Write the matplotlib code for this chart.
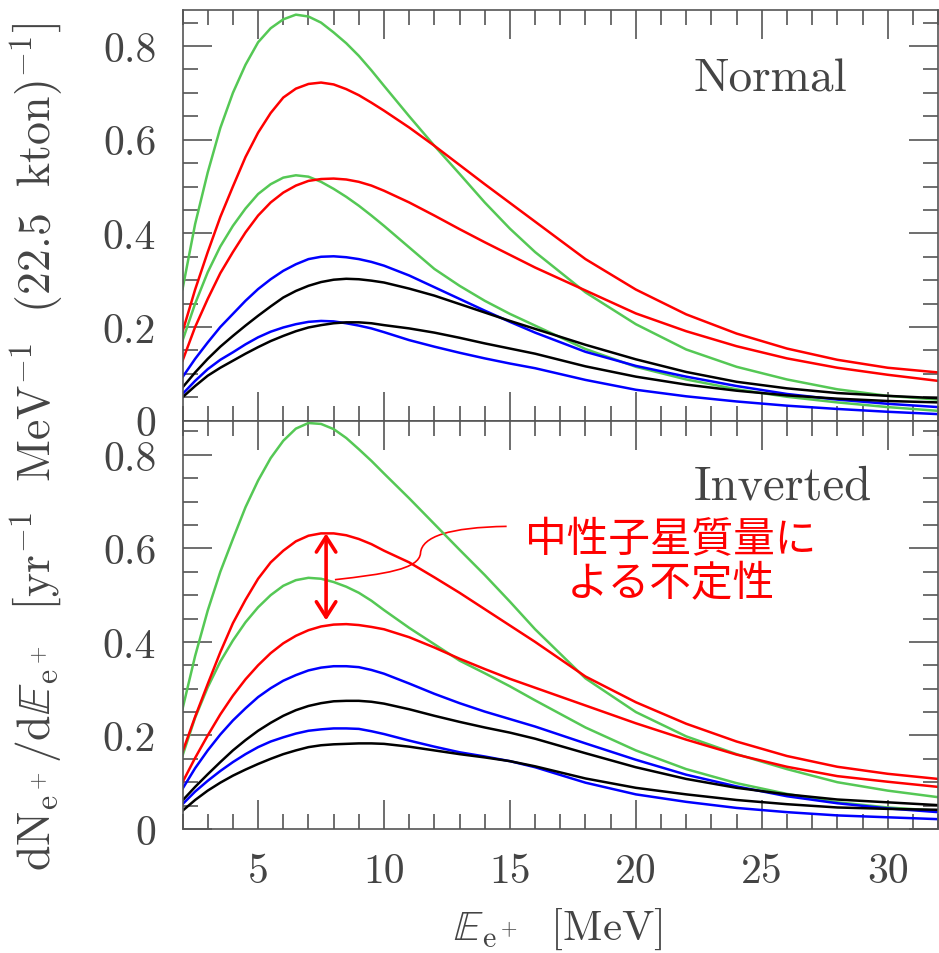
import matplotlib
matplotlib.use('Agg')
import matplotlib.pyplot as plt
from matplotlib.path import Path
from matplotlib.patches import PathPatch
from matplotlib.ticker import MultipleLocator

plt.rcParams['mathtext.fontset'] = 'cm'
plt.rcParams['font.family'] = ['cmr10', 'DejaVu Sans']
plt.rcParams['axes.formatter.use_mathtext'] = True

# positron energy grid [MeV], finer around the peaks
energy = [2, 2.5, 3, 3.5, 4, 4.5, 5, 5.5, 6, 6.5, 7, 7.5, 8, 8.5, 9, 9.5, 10,
          11, 12, 13, 14, 15, 16, 18, 20, 22, 24, 26, 28, 30, 32]

# normal hierarchy spectra
n_green_hi = [0.281, 0.420, 0.530, 0.625, 0.700, 0.760, 0.808, 0.838, 0.857, 0.867, 0.863, 0.850,
              0.829, 0.806, 0.779, 0.748, 0.715,
              0.650, 0.587, 0.527, 0.466, 0.410, 0.360, 0.274, 0.206, 0.152, 0.115, 0.088, 0.067,
              0.053, 0.045]
n_green_lo = [0.171, 0.250, 0.317, 0.372, 0.416, 0.453, 0.484, 0.505, 0.519, 0.524, 0.521, 0.510,
              0.495, 0.478, 0.459, 0.438, 0.416,
              0.370, 0.324, 0.288, 0.256, 0.228, 0.203, 0.153, 0.115, 0.088, 0.067, 0.051, 0.039,
              0.029, 0.021]
n_red_hi = [0.190, 0.280, 0.360, 0.435, 0.500, 0.563, 0.615, 0.657, 0.690, 0.709, 0.719, 0.722,
            0.718, 0.708, 0.695, 0.679, 0.662,
            0.626, 0.587, 0.546, 0.505, 0.465, 0.425, 0.345, 0.280, 0.227, 0.186, 0.154, 0.130,
            0.113, 0.103]
n_red_lo = [0.128, 0.200, 0.260, 0.315, 0.360, 0.402, 0.438, 0.466, 0.487, 0.502, 0.512, 0.516,
            0.517, 0.515, 0.510, 0.502, 0.491,
            0.466, 0.438, 0.409, 0.381, 0.354, 0.327, 0.278, 0.229, 0.191, 0.159, 0.133, 0.113,
            0.098, 0.085]
n_blue_hi = [0.093, 0.132, 0.167, 0.200, 0.228, 0.256, 0.281, 0.302, 0.320, 0.334, 0.345, 0.350,
             0.351, 0.349, 0.345, 0.339, 0.331,
             0.310, 0.285, 0.260, 0.235, 0.211, 0.188, 0.147, 0.117, 0.094, 0.074, 0.057, 0.045,
             0.036, 0.029]
n_blue_lo = [0.057, 0.085, 0.110, 0.130, 0.146, 0.163, 0.178, 0.190, 0.199, 0.206, 0.211, 0.213,
             0.212, 0.208, 0.203, 0.197, 0.189,
             0.172, 0.158, 0.145, 0.133, 0.122, 0.112, 0.087, 0.066, 0.052, 0.041, 0.032, 0.025,
             0.019, 0.014]
n_black_hi = [0.071, 0.103, 0.132, 0.158, 0.181, 0.203, 0.224, 0.244, 0.263, 0.277, 0.288, 0.296,
              0.301, 0.303, 0.302, 0.299, 0.295,
              0.282, 0.267, 0.249, 0.231, 0.213, 0.196, 0.162, 0.131, 0.104, 0.083, 0.069, 0.059,
              0.053, 0.048]
n_black_lo = [0.050, 0.074, 0.096, 0.113, 0.128, 0.143, 0.157, 0.170, 0.181, 0.191, 0.199, 0.204,
              0.208, 0.210, 0.210, 0.208, 0.204,
              0.197, 0.188, 0.177, 0.165, 0.154, 0.143, 0.116, 0.094, 0.077, 0.064, 0.054, 0.047,
              0.042, 0.039]

# inverted hierarchy spectra
i_green_hi = [0.257, 0.370, 0.467, 0.550, 0.620, 0.688, 0.745, 0.793, 0.830, 0.856, 0.868, 0.866,
              0.855, 0.836, 0.812, 0.787, 0.760,
              0.707, 0.652, 0.597, 0.543, 0.486, 0.427, 0.322, 0.250, 0.198, 0.160, 0.128, 0.100,
              0.082, 0.068]
i_green_lo = [0.157, 0.238, 0.303, 0.358, 0.403, 0.442, 0.474, 0.500, 0.520, 0.532, 0.537, 0.535,
              0.528, 0.518, 0.505, 0.488, 0.468,
              0.430, 0.395, 0.360, 0.333, 0.305, 0.275, 0.217, 0.168, 0.128, 0.098, 0.075, 0.057,
              0.046, 0.039]
i_red_hi = [0.165, 0.240, 0.310, 0.378, 0.440, 0.490, 0.535, 0.570, 0.595, 0.615, 0.627, 0.632,
            0.632, 0.628, 0.620, 0.609, 0.595,
            0.570, 0.538, 0.505, 0.470, 0.435, 0.400, 0.326, 0.271, 0.225, 0.187, 0.156, 0.133,
            0.118, 0.107]
i_red_lo = [0.100, 0.152, 0.200, 0.245, 0.285, 0.320, 0.350, 0.376, 0.397, 0.413, 0.425, 0.433,
            0.437, 0.438, 0.436, 0.432, 0.427,
            0.410, 0.388, 0.364, 0.342, 0.321, 0.302, 0.264, 0.226, 0.191, 0.159, 0.133, 0.113,
            0.101, 0.090]
i_blue_hi = [0.086, 0.130, 0.168, 0.202, 0.232, 0.258, 0.282, 0.301, 0.317, 0.329, 0.339, 0.345,
             0.348, 0.348, 0.346, 0.340, 0.332,
             0.311, 0.289, 0.269, 0.251, 0.235, 0.219, 0.183, 0.148, 0.116, 0.091, 0.070, 0.055,
             0.044, 0.036]
i_blue_lo = [0.053, 0.080, 0.103, 0.124, 0.143, 0.160, 0.175, 0.187, 0.196, 0.204, 0.210, 0.213,
             0.215, 0.215, 0.214, 0.209, 0.203,
             0.189, 0.176, 0.164, 0.155, 0.145, 0.132, 0.099, 0.074, 0.058, 0.045, 0.036, 0.029,
             0.025, 0.021]
i_black_hi = [0.061, 0.090, 0.117, 0.143, 0.168, 0.190, 0.210, 0.227, 0.242, 0.254, 0.263, 0.269,
              0.273, 0.274, 0.274, 0.272, 0.268,
              0.256, 0.242, 0.229, 0.217, 0.206, 0.193, 0.162, 0.132, 0.107, 0.088, 0.074, 0.063,
              0.057, 0.051]
i_black_lo = [0.039, 0.062, 0.082, 0.099, 0.114, 0.127, 0.139, 0.150, 0.160, 0.168, 0.175, 0.179,
              0.181, 0.182, 0.183, 0.183, 0.182,
              0.176, 0.168, 0.160, 0.153, 0.145, 0.134, 0.108, 0.088, 0.074, 0.062, 0.053, 0.046,
              0.043, 0.041]

y_ticks = [0, 0.2, 0.4, 0.6, 0.8]
y_tick_labels = ['0', '0.2', '0.4', '0.6', '0.8']
x_ticks = [5, 10, 15, 20, 25, 30]
x_tick_labels = ['5', '10', '15', '20', '25', '30']

GREEN = '#55c855'
RED = '#ff0000'
BLUE = '#0000ff'
BLACK = '#000000'
AXIS_GREY = '#555555'
TEXT_GREY = '#444444'


def draw_panel(ax, curves, ymax, name, name_x, name_y, name_size):
    for vals, color in curves:
        ax.plot(energy, vals, color=color, lw=1.8, solid_joinstyle='round')
    ax.set_xlim(2, 32)
    ax.set_ylim(0, ymax)
    ax.set_xticks(x_ticks, x_tick_labels)
    ax.set_yticks(y_ticks, y_tick_labels)
    ax.xaxis.set_minor_locator(MultipleLocator(1))
    ax.yaxis.set_minor_locator(MultipleLocator(0.05))
    ax.tick_params(which='both', direction='in', top=True, right=True,
                   color=AXIS_GREY, width=1.2, labelsize=30, labelcolor=TEXT_GREY)
    ax.tick_params(which='major', length=21)
    ax.tick_params(which='minor', length=10.5)
    ax.tick_params(axis='y', pad=19)
    ax.tick_params(axis='x', pad=17)
    for sp in ax.spines.values():
        sp.set_color(AXIS_GREY)
        sp.set_linewidth(1.2)
    ax.text(name_x, name_y, name, transform=ax.transAxes, ha='center', va='center',
            fontsize=name_size, color=TEXT_GREY)


fig = plt.figure(figsize=(9.39, 9.54), dpi=100)
ax_n = fig.add_axes([0.1944, 0.558, 0.8046, 0.4305])
ax_i = fig.add_axes([0.1944, 0.130, 0.8046, 0.428])

draw_panel(ax_n, [(n_green_hi, GREEN), (n_green_lo, GREEN), (n_red_hi, RED), (n_red_lo, RED),
                  (n_blue_hi, BLUE), (n_blue_lo, BLUE), (n_black_hi, BLACK), (n_black_lo, BLACK)],
           0.877, 'Normal', 0.778, 0.832, 34)
draw_panel(ax_i, [(i_green_hi, GREEN), (i_green_lo, GREEN), (i_red_hi, RED), (i_red_lo, RED),
                  (i_blue_hi, BLUE), (i_blue_lo, BLUE), (i_black_hi, BLACK), (i_black_lo, BLACK)],
           0.873, 'Inverted', 0.795, 0.838, 35)
ax_n.tick_params(labelbottom=False)

# spread between the two red (neutron star mass) curves
arrow_x = 7.7
ax_i.annotate('', xy=(arrow_x, max(i_red_hi)), xytext=(arrow_x, max(i_red_lo) + 0.008),
              arrowprops=dict(arrowstyle='<->,head_length=1.1,head_width=0.7',
                              color=RED, lw=2.6, shrinkA=0, shrinkB=0))

callout = Path([(8.05, 0.533), (10.0, 0.545), (11.4, 0.555), (11.45, 0.59),
                (11.5, 0.625), (12.6, 0.645), (14.87, 0.647)],
               [Path.MOVETO, Path.CURVE4, Path.CURVE4, Path.CURVE4,
                Path.CURVE4, Path.CURVE4, Path.CURVE4])
ax_i.add_patch(PathPatch(callout, fill=False, edgecolor=RED, lw=1.2))
ax_i.text(21.4, 0.572, '中性子星質量に\nよる不定性', ha='center', va='center',
          fontsize=30, color=RED, family=['Noto Sans CJK JP'], linespacing=1.1)

fig.text(0.040, 0.532,
         r'$\mathrm{dN_{e^+}/d}\mathbb{E}_{\mathrm{e}^+}\ \ \left[\mathrm{yr^{-1}\ \ MeV^{-1}\ \ (22.5\ \ kton)^{-1}}\right]$',
         rotation=90, ha='center', va='center', fontsize=33, color=TEXT_GREY)
fig.text(0.594, 0.026, r'$\mathbb{E}_{\mathrm{e}^+}\ \ [\mathrm{MeV}]$',
         ha='center', va='center', fontsize=31, color=TEXT_GREY)

fig.savefig('out.png', dpi=100)
